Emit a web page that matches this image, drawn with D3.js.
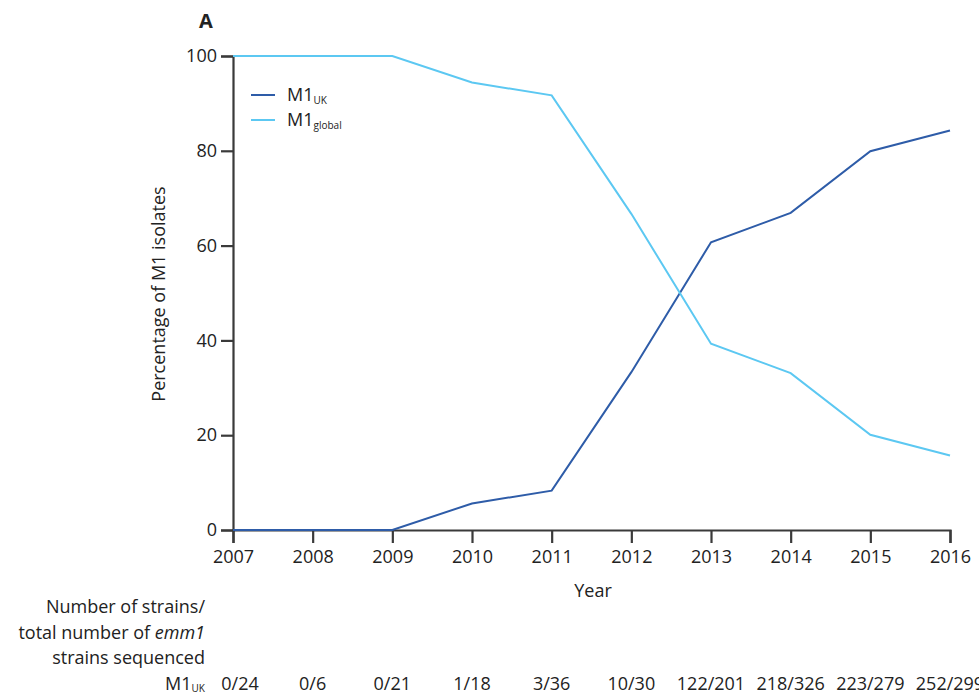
<!DOCTYPE html>
<html>
<head>
<meta charset="utf-8">
<script src="https://cdn.jsdelivr.net/npm/d3@7"></script>
<style>
  html, body { margin: 0; padding: 0; background: #fff; }
  svg { display: block; font-family: "Open Sans", "Noto Sans", sans-serif; }
</style>
</head>
<body>
<svg id="chart" width="979" height="698"></svg>
<script>
// Years sampled and emm1 strain counts per year
const years = [2007, 2008, 2009, 2010, 2011, 2012, 2013, 2014, 2015, 2016];
const ukCounts = [0, 0, 0, 1, 3, 10, 122, 218, 223, 252];
const totalCounts = [24, 6, 21, 18, 36, 30, 201, 326, 279, 299];
// Percentage of M1 isolates by lineage
const ukPct = [0, 0, 0, 5.6, 8.3, 33.3, 60.7, 66.9, 79.9, 84.3];
const globalPct = [100, 100, 100, 94.4, 91.7, 66.7, 39.3, 33.1, 20.1, 15.7];
const yTicks = [0, 20, 40, 60, 80, 100];

const colUK = "#2e5ca8";
const colGlobal = "#5cc8f2";
const axisCol = "#3a3a3a";
const textCol = "#222";
const fs = 18;

const svg = d3.select("#chart");
const x = d3.scaleLinear().domain([2007, 2016]).range([233, 950]);
const y = d3.scaleLinear().domain([0, 100]).range([530, 56]);

// Panel letter
svg.append("text").attr("x", 199).attr("y", 28)
  .attr("font-size", 20).attr("font-weight", "bold").attr("fill", textCol).text("A");

// Axes
const yAxis = svg.append("g").attr("transform", "translate(233,0)")
  .call(d3.axisLeft(y).tickValues(yTicks).tickSize(12).tickPadding(4).tickFormat(d3.format("d")));
const xAxis = svg.append("g").attr("transform", "translate(0,530)")
  .call(d3.axisBottom(x).tickValues(years).tickSize(13).tickPadding(7).tickFormat(d3.format("d")));
[yAxis, xAxis].forEach(g => {
  g.select(".domain").attr("stroke", axisCol).attr("stroke-width", 2.2);
  g.selectAll(".tick line").attr("stroke", axisCol).attr("stroke-width", 2.2);
  g.selectAll(".tick text").attr("fill", textCol).attr("font-size", fs)
    .attr("font-family", "\"Open Sans\", sans-serif");
});

// Series lines
const line = d3.line().x(d => x(d[0])).y(d => y(d[1]));
const seriesDefs = [
  { vals: ukPct, color: colUK },
  { vals: globalPct, color: colGlobal }
];
seriesDefs.forEach(s => {
  svg.append("path")
    .datum(years.map((yr, i) => [yr, s.vals[i]]))
    .attr("fill", "none").attr("stroke", s.color).attr("stroke-width", 2)
    .attr("d", line);
});

// Axis titles
svg.append("text").attr("transform", "translate(165,294) rotate(-90)")
  .attr("text-anchor", "middle").attr("font-size", fs).attr("fill", textCol)
  .text("Percentage of M1 isolates");
svg.append("text").attr("x", 593).attr("y", 597)
  .attr("text-anchor", "middle").attr("font-size", fs).attr("fill", textCol).text("Year");

// Legend
const legend = [
  { main: "M1", sub: "UK", color: colUK },
  { main: "M1", sub: "global", color: colGlobal }
];
legend.forEach((l, i) => {
  const ly = 95 + i * 25;
  svg.append("line").attr("x1", 251).attr("x2", 275).attr("y1", ly).attr("y2", ly)
    .attr("stroke", l.color).attr("stroke-width", 2);
  const t = svg.append("text").attr("x", 287).attr("y", ly + 6)
    .attr("font-size", fs).attr("fill", textCol);
  t.append("tspan").text(l.main);
  t.append("tspan").attr("font-size", 10).attr("dy", 3).text(l.sub);
});

// Strain count table
const tableLines = ["Number of strains/", "total number of ", "strains sequenced"];
const tbl = svg.append("g").attr("font-size", fs).attr("fill", textCol).attr("text-anchor", "end");
tbl.append("text").attr("x", 205).attr("y", 613).text(tableLines[0]);
const l2 = tbl.append("text").attr("x", 205).attr("y", 639);
l2.append("tspan").text(tableLines[1]);
l2.append("tspan").attr("font-style", "italic").text("emm1");
tbl.append("text").attr("x", 205).attr("y", 664).text(tableLines[2]);
const rowLab = tbl.append("text").attr("x", 205).attr("y", 690);
rowLab.append("tspan").text("M1");
rowLab.append("tspan").attr("font-size", 10).attr("dy", 2).text("UK");

svg.append("g").selectAll("text").data(years).join("text")
  .attr("x", (d, i) => i === 0 ? x(d) + 7 : x(d))
  .attr("y", 690).attr("text-anchor", "middle")
  .attr("font-size", fs).attr("fill", textCol)
  .text((d, i) => `${ukCounts[i]}/${totalCounts[i]}`);
</script>
</body>
</html>
